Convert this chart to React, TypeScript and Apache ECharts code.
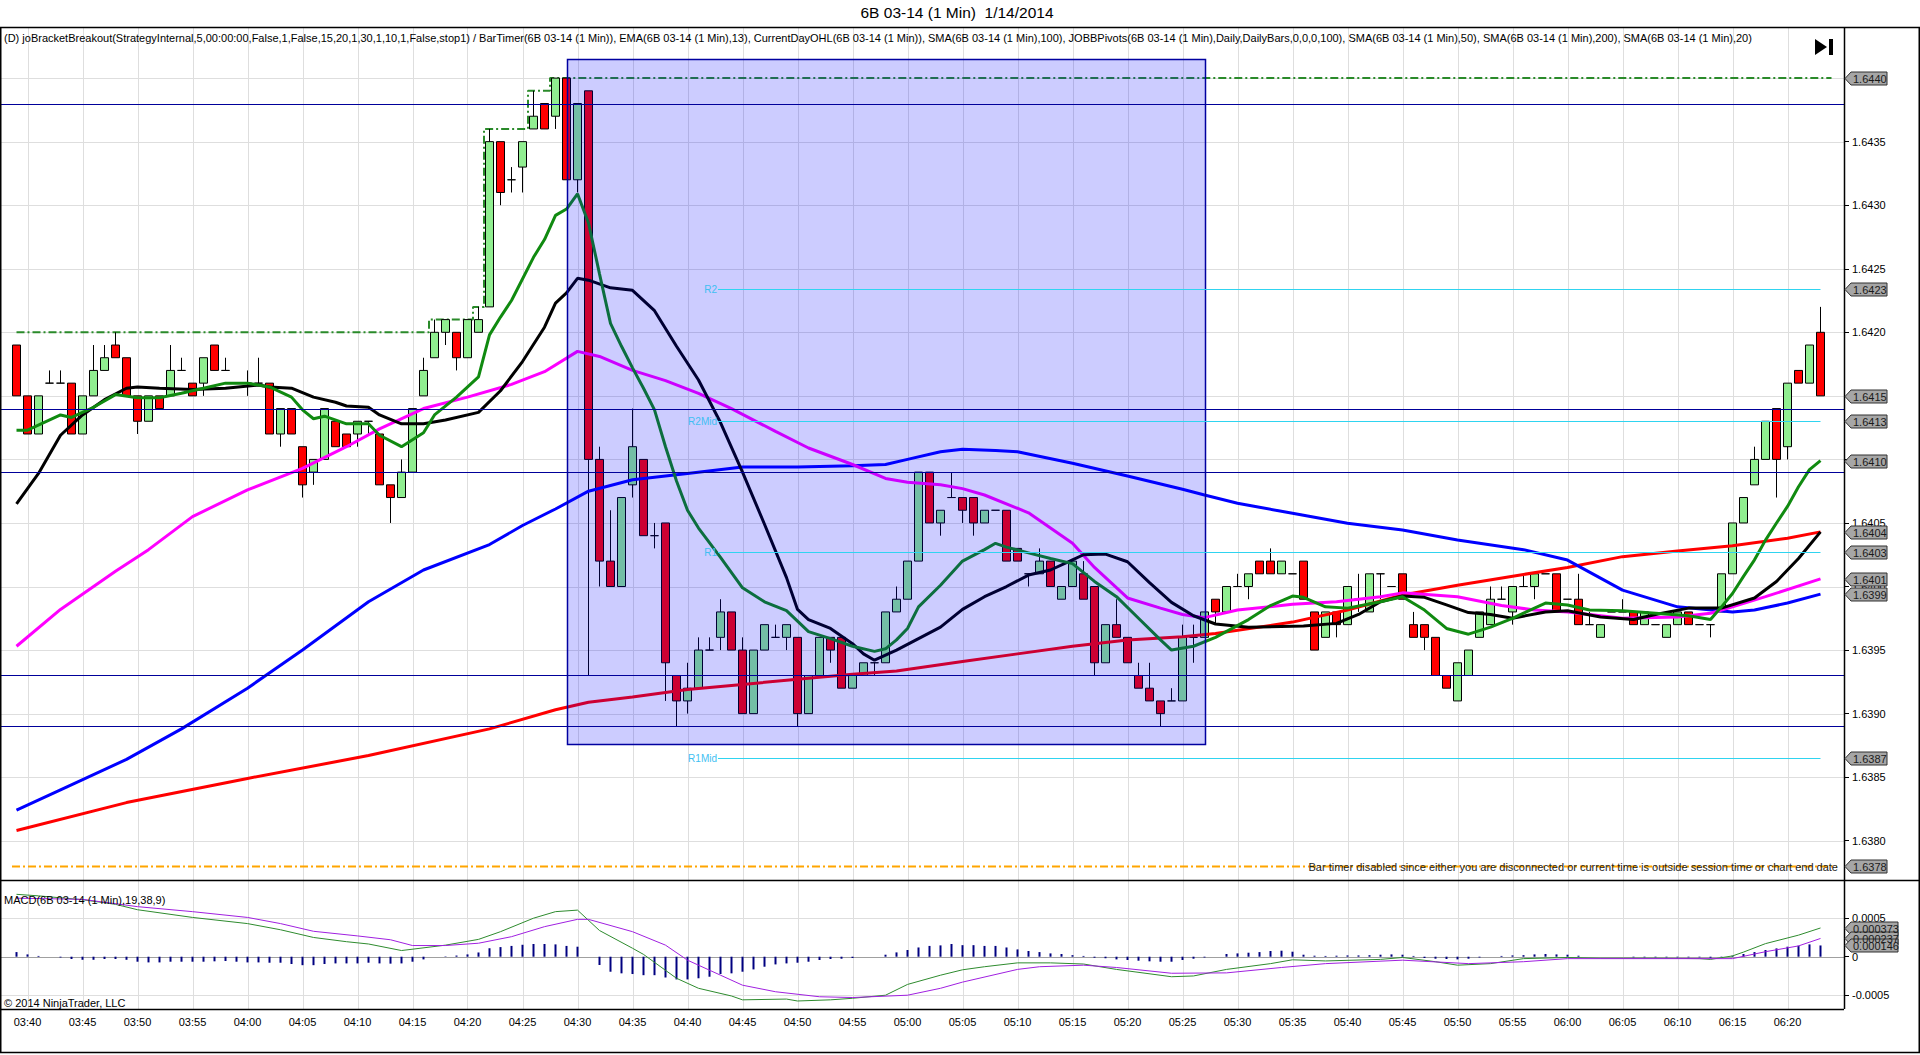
import React, { useEffect, useRef } from 'react';
import * as echarts from 'echarts';

// ---------- axis / categories ----------
const AXIS_START_MIN = 3 * 60 + 38; // 03:38
const AXIS_END_MIN = 6 * 60 + 25; // 06:25
const pad = (n: number) => String(n).padStart(2, '0');
const categories: string[] = [];
for (let t = AXIS_START_MIN; t <= AXIS_END_MIN; t++) categories.push(`${pad(Math.floor(t / 60))}:${pad(t % 60)}`);

const timeLabels = ['03:40', '03:45', '03:50', '03:55', '04:00', '04:05', '04:10', '04:15', '04:20', '04:25', '04:30', '04:35', '04:40', '04:45', '04:50', '04:55', '05:00', '05:05', '05:10', '05:15', '05:20', '05:25', '05:30', '05:35', '05:40', '05:45', '05:50', '05:55', '06:00', '06:05', '06:10', '06:15', '06:20'];
const priceTicks = [1.638, 1.6385, 1.639, 1.6395, 1.64, 1.6405, 1.641, 1.6415, 1.642, 1.6425, 1.643, 1.6435, 1.644];
const macdTicks = [-0.0005, 0, 0.0005];

const PRICE_MIN = 1.637691;
const PRICE_MAX = 1.644402;
const MACD_MIN = -0.000679;
const MACD_MAX = 0.000996;

// ---------- candles: first candle 03:39, values in pips above 1.6400 ----------
const BASE = 1.64;
const PIP = 0.0001;
const FIRST_CANDLE = '03:39';
const openPips = [
  19, 15, 12, 16, 16, 16, 12, 15, 17, 19, 18,
  15, 13, 15, 15, 17, 16, 16, 19, 17, 16,
  16, 16, 16, 12, 14, 11, 9, 10, 13, 12,
  12, 13, 12, 8, 7, 9, 15, 18, 20, 20,
  18, 20, 22, 35, 32, 33, 36, 38, 37, 40,
  32, 39, 10, 2, 0, 8, 10, 4, 5, -7,
  -9, -8, -5, -4, -2, -5, -10, -5, -4, -4,
  -4, -10, -7, -4, -4, -8, -7, -6, -6, -2,
  -1, 2, 9, 5, 7, 7, 7, 5, 6, 6,
  3, 1, 1, 2, -1, 0, 1, 0, -6, -3,
  -4, -7, -8, -9, -9, -9, -4, -4, -1, -2,
  0, 0, 2, 2, 1, 1, 2, -2, -4, -2,
  -3, -1, -2, 1, 0, 1, -3, -3, -4, -7,
  -9, -7, -4, -3, -1, -2, 0, 0, 1, 1,
  -1, -1, -3, -4, -2, -2, -2, -3, -3, -4,
  -3, -2, -3, -3, -2, 1, 5, 8, 10, 14,
  11, 17, 16, 20,
];
const highPips = [
  19, 15, 15, 17, 17, 16, 15, 19, 19, 20, 18,
  15, 15, 15, 19, 18, 16, 18, 19, 18, 16,
  17, 18, 16, 14, 14, 11, 10, 14, 13, 12,
  13, 13, 12, 8, 10, 14, 18, 21, 21, 20,
  21, 22, 36, 35, 33, 35, 39, 38, 40, 40,
  38, 39, 11, 6, 7, 14, 10, 5, 5, -7,
  -6, -4, -4, -1, -2, -4, -5, -3, -3, -3,
  -4, -7, -4, -4, -4, -7, -6, -6, -2, 0,
  2, 9, 9, 6, 9, 7, 7, 6, 6, 6,
  3, 1, 3, 2, 0, 2, 2, 0, -3, -1,
  -4, -6, -6, -9, -8, -3, -3, -2, -1, 0,
  1, 1, 2, 3, 2, 1, 2, -2, -2, -2,
  0, 1, 1, 1, 0, 1, -2, -3, -4, -7,
  -6, -5, -2, 0, 0, 0, 1, 1, 1, 1,
  -1, 1, -2, -3, -2, -1, -2, -2, -3, -3,
  -2, -2, -3, -3, 1, 5, 7, 11, 13, 14,
  16, 17, 19, 22,
];
const lowPips = [
  15, 12, 12, 16, 16, 12, 12, 15, 17, 18, 15,
  12, 13, 14, 15, 17, 15, 15, 17, 17, 16,
  15, 16, 12, 11, 12, 7, 8, 10, 11, 11,
  11, 12, 8, 5, 7, 9, 15, 18, 19, 17,
  18, 20, 22, 30, 31, 31, 36, 36, 36, 32,
  31, -7, 0, 0, 0, 7, 4, 3, -9, -11,
  -10, -8, -5, -5, -5, -10, -10, -5, -4, -5,
  -11, -10, -7, -6, -8, -8, -7, -7, -6, -2,
  -1, 2, 5, 4, 7, 5, 4, 5, 6, 2,
  2, 0, 1, 0, -1, 0, -1, -7, -6, -4,
  -6, -8, -9, -11, -9, -9, -6, -4, -3, -2,
  0, -1, 1, 1, 1, 1, -1, -5, -4, -4,
  -3, -2, -2, -1, 0, -1, -4, -5, -7, -8,
  -9, -7, -4, -3, -1, -3, 0, -1, 1, -2,
  -1, -3, -3, -4, -2, -2, -3, -3, -3, -4,
  -3, -3, -3, -4, -2, 1, 5, 8, 10, 7,
  10, 16, 16, 15,
];
const closePips = [
  15, 12, 15, 16, 16, 12, 15, 17, 18, 18, 15,
  13, 15, 14, 17, 17, 15, 18, 17, 17, 16,
  16, 16, 12, 14, 12, 8, 10, 14, 11, 11,
  13, 13, 8, 7, 9, 14, 17, 20, 21, 18,
  21, 21, 35, 31, 32, 35, 37, 36, 40, 32,
  38, 10, 2, 0, 7, 11, 4, 4, -6, -9,
  -8, -5, -5, -2, -5, -10, -5, -3, -4, -3,
  -10, -7, -4, -5, -8, -7, -6, -6, -2, -1,
  2, 9, 5, 6, 7, 6, 5, 6, 6, 2,
  2, 1, 2, 0, 0, 2, -1, -6, -3, -4,
  -6, -8, -9, -10, -9, -4, -4, -2, -2, 0,
  0, 1, 1, 1, 2, 1, -1, -5, -2, -3,
  0, -1, 1, 1, 0, -1, -4, -4, -7, -8,
  -6, -5, -2, -1, -1, 0, 0, 1, 1, -2,
  -1, -3, -3, -3, -2, -2, -3, -2, -3, -3,
  -2, -3, -3, -3, 1, 5, 7, 10, 13, 10,
  16, 16, 19, 15,
];

// ---------- indicator lines: [minutes after 03:40, pips above 1.6400] ----------
const ema13 = [[-1, 12.3], [0, 12.3], [3, 13.5], [4, 13.3], [6, 14.1], [8, 15.1], [10, 14.85], [12, 14.85], [14, 15.2], [16, 15.6], [18, 16.0], [20, 16.0], [22, 15.7], [24, 14.9], [25, 13.9], [26, 13.2], [27, 13.4], [29, 12.8], [31, 12.8], [32, 11.9], [34, 11.0], [36, 12.1], [37, 13.5], [39, 14.9], [41, 16.5], [42, 19.8], [43, 21.2], [44, 22.5], [46, 25.9], [47, 27.3], [48, 29.2], [49, 29.7], [50, 30.9], [51, 28.6], [52, 24.6], [53, 20.7], [54, 18.9], [55, 17.2], [56, 15.6], [57, 13.9], [58, 11.0], [59, 8.3], [60, 6.0], [61, 4.6], [63, 2.3], [65, -0.1], [67, -1.2], [69, -1.9], [71, -3.55], [73, -4.1], [75, -4.7], [77, -5.1], [78, -4.9], [79, -4.2], [80, -3.3], [81, -1.6], [83, 0.1], [85, 2.0], [87, 2.9], [88, 3.4], [89, 3.1], [91, 2.65], [93, 2.2], [95, 1.8], [97, 0.4], [99, -0.8], [101, -2.5], [103, -4.2], [104, -5.0], [106, -4.7], [108, -4.0], [111, -2.6], [113, -1.5], [115, -0.75], [116, -0.85], [118, -1.6], [120, -1.7], [123, -1.2], [125, -0.8], [127, -1.85], [129, -3.3], [131, -3.75], [133, -3.2], [135, -2.5], [136, -2.1], [138, -1.3], [140, -1.45], [142, -1.85], [145, -1.9], [148, -2.1], [151, -2.3], [153, -2.6], [154, -1.6], [155, -0.55], [156, 0.8], [157, 2.1], [158, 3.65], [159, 5.0], [160, 6.3], [161, 7.85], [162, 9.2], [163, 9.9]];
const sma20 = [[-1, 6.5], [1, 8.9], [3, 11.9], [5, 13.5], [7, 14.7], [9, 15.6], [10, 15.7], [12, 15.6], [15, 15.5], [18, 15.6], [21, 15.85], [22, 15.7], [24, 15.6], [26, 14.9], [28, 14.5], [29, 14.2], [31, 14.1], [32, 13.5], [34, 12.8], [36, 12.8], [38, 13.1], [41, 13.7], [43, 15.4], [45, 17.7], [47, 20.4], [48, 22.3], [49, 23.1], [50, 24.25], [51, 24.1], [53, 23.5], [55, 23.3], [57, 21.7], [59, 18.9], [61, 16.25], [63, 12.9], [65, 9.0], [67, 4.9], [69, 0.7], [70, -1.8], [71, -2.6], [73, -3.3], [75, -4.5], [76, -5.3], [77, -5.8], [79, -5.0], [81, -4.1], [83, -3.2], [85, -1.8], [87, -0.8], [89, 0.0], [91, 0.9], [93, 1.3], [95, 2.1], [96, 2.5], [98, 2.55], [100, 1.95], [102, 0.3], [104, -1.25], [106, -2.3], [108, -2.95], [111, -3.2], [116, -3.1], [119, -2.9], [121, -2.2], [123, -1.2], [125, -0.75], [127, -0.85], [129, -1.45], [131, -2.05], [133, -2.2], [135, -2.5], [138, -2.0], [140, -1.9], [143, -2.4], [146, -2.6], [148, -2.2], [151, -1.7], [154, -1.7], [157, -0.9], [159, 0.4], [161, 2.2], [163, 4.3]];
const sma50 = [[-1, -4.7], [3, -1.8], [8, 1.2], [11, 2.9], [15, 5.5], [20, 7.6], [25, 9.3], [29, 11.0], [32, 12.4], [36, 14.0], [40, 14.9], [44, 15.9], [47, 16.9], [50, 18.5], [52, 18.1], [55, 17.0], [58, 16.2], [61, 15.2], [64, 14.0], [68, 12.2], [71, 10.9], [75, 9.6], [78, 8.5], [80, 8.2], [83, 8.0], [85, 7.7], [87, 7.2], [91, 5.8], [95, 3.4], [97, 1.5], [100, -0.9], [103, -1.7], [105, -2.2], [107, -2.45], [110, -1.85], [115, -1.4], [119, -1.2], [123, -0.8], [125, -0.5], [130, -0.8], [134, -1.5], [137, -1.85], [140, -2.0], [145, -2.5], [150, -2.4], [153, -2.1], [155, -1.6], [158, -0.8], [163, 0.6]];
const sma100 = [[-1, -17.6], [3, -16.0], [9, -13.6], [14, -11.2], [20, -8.0], [25, -5.0], [31, -1.2], [36, 1.3], [42, 3.3], [45, 4.8], [48, 6.1], [51, 7.5], [55, 8.4], [60, 8.9], [65, 9.4], [70, 9.4], [75, 9.5], [78, 9.6], [80, 10.0], [83, 10.6], [85, 10.8], [88, 10.7], [90, 10.6], [95, 9.7], [100, 8.7], [105, 7.65], [107, 7.2], [110, 6.55], [115, 5.76], [120, 4.97], [125, 4.45], [130, 3.66], [136, 2.9], [140, 2.08], [145, -0.28], [150, -1.6], [155, -2.0], [157, -1.85], [160, -1.3], [163, -0.6]];
const sma200 = [[-1, -19.2], [9, -17.0], [20, -15.1], [31, -13.3], [42, -11.2], [48, -9.7], [51, -9.1], [55, -8.7], [60, -8.1], [65, -7.7], [70, -7.3], [75, -6.9], [79, -6.65], [85, -5.9], [90, -5.3], [95, -4.7], [100, -4.2], [105, -3.95], [108, -3.7], [115, -2.8], [120, -1.85], [125, -0.67], [130, 0.1], [136, 0.95], [140, 1.5], [145, 2.35], [150, 2.8], [155, 3.2], [160, 3.8], [163, 4.3]];
// CurrentDayOHL running high (step line)
const dayHigh = [[-1, 20], [36, 20], [37, 21], [40, 21], [41, 22], [42, 36], [45, 36], [46, 39], [47, 39], [48, 40], [164, 40]];

// ---------- MACD (units of 0.0001) ----------
const macdLine = [[-1, 8.1], [1, 7.9], [5, 7.4], [8, 6.8], [10, 6.1], [15, 5.1], [20, 4.3], [23, 3.5], [26, 2.5], [29, 1.95], [31, 1.65], [34, 0.8], [38, 1.5], [41, 2.25], [43, 3.25], [46, 5.0], [48, 5.85], [50, 6.05], [52, 3.4], [55, 1.1], [56, 0.3], [59, -2.8], [61, -4.1], [64, -5.1], [65, -5.6], [69, -5.5], [70, -5.75], [73, -5.6], [75, -5.4], [78, -5.0], [80, -3.6], [83, -2.4], [85, -1.7], [87, -1.3], [90, -0.8], [93, -0.8], [96, -0.95], [99, -1.65], [104, -2.6], [106, -2.5], [109, -1.65], [113, -0.9], [115, -0.4], [118, -0.55], [123, -0.35], [125, -0.1], [128, -0.65], [130, -1.1], [133, -0.9], [136, -0.25], [140, -0.1], [143, -0.2], [148, -0.2], [152, -0.25], [153, -0.35], [155, 0.1], [156, 0.6], [158, 1.7], [161, 2.8], [163, 3.73]];
const signalLine = [[-1, 7.6], [5, 7.45], [10, 6.5], [15, 5.85], [20, 5.1], [23, 4.3], [26, 3.3], [30, 2.7], [33, 2.2], [35, 1.45], [38, 1.45], [41, 1.75], [44, 2.6], [47, 3.9], [50, 4.85], [51, 4.85], [55, 3.25], [58, 1.5], [60, -0.45], [63, -2.4], [65, -3.7], [68, -4.55], [72, -5.2], [75, -5.3], [80, -5.0], [83, -4.1], [85, -3.3], [90, -1.65], [92, -1.3], [96, -1.1], [99, -1.4], [104, -2.15], [109, -2.1], [114, -1.4], [118, -0.9], [125, -0.45], [131, -0.9], [136, -0.65], [140, -0.25], [155, -0.25], [158, 0.65], [161, 1.4], [163, 2.37]];
const histValues = [
  0.6, 0.3, 0.1, 0, -0.1, -0.3, -0.4, -0.4, -0.3, -0.3, -0.4,
  -0.65, -0.74, -0.74, -0.65, -0.65, -0.65, -0.65, -0.6, -0.56, -0.65,
  -0.74, -0.74, -0.78, -0.78, -0.95, -1.1, -1.1, -0.95, -0.87, -0.87,
  -0.87, -0.78, -0.87, -0.9, -0.87, -0.65, -0.35, 0, 0.05, 0.15,
  0.3, 0.55, 1.1, 1.25, 1.4, 1.55, 1.65, 1.65, 1.6, 1.4,
  1.3, 0, -1.08, -1.95, -2.16, -2.25, -2.4, -2.4, -2.7, -2.95,
  -2.95, -2.8, -2.6, -2.25, -2.16, -1.95, -1.65, -1.3, -1.0, -0.87,
  -0.78, -0.65, -0.43, -0.3, -0.26, -0.17, 0, 0, 0.26, 0.56,
  0.87, 1.2, 1.4, 1.47, 1.65, 1.5, 1.5, 1.4, 1.4, 1.2,
  0.95, 0.74, 0.6, 0.43, 0.35, 0.2, 0.1, -0.13, -0.2, -0.35,
  -0.43, -0.52, -0.6, -0.65, -0.65, -0.43, -0.26, -0.1, 0, 0.35,
  0.43, 0.52, 0.6, 0.74, 0.78, 0.65, 0.26, 0.13, 0.1, 0.13,
  0.17, 0.17, 0.2, 0.26, 0.3, 0.26, 0.1, -0.17, -0.26, -0.3,
  -0.35, -0.26, -0.1, 0, 0.1, 0.17, 0.2, 0.3, 0.35, 0.3,
  0.26, 0.13, 0, 0, 0, 0, -0.08, -0.08, -0.08, -0.08,
  -0.08, -0.08, -0.08, -0.13, -0.05, 0.13, 0.35, 0.6, 0.87, 1.08,
  1.3, 1.43, 1.6, 1.46,
];

// ---------- drawing objects ----------
const bracketLines = [1.6438, 1.6414, 1.6409, 1.6393, 1.6389];
const pivotNames = ['R2', 'R2Mid', 'R1', 'R1Mid'];
const pivotValues = [1.64234, 1.6413, 1.64027, 1.63865];
const pivotStart = '04:43';
const pivotEnd = '06:23';
const boxStart = '04:29';
const boxEnd = '05:27';
const boxHigh = 1.64415;
const boxLow = 1.63876;
const barTimerLevel = 1.6378;
const priceMarkerValues = [1.644, 1.64234, 1.6415, 1.6413, 1.64099, 1.64043, 1.64027, 1.64006, 1.63994, 1.63865, 1.6378];
const priceMarkerTexts = ['1.6440', '1.6423', '1.6415', '1.6413', '1.6410', '1.6404', '1.6403', '1.6401', '1.6399', '1.6387', '1.6378'];
const macdMarkerValues = [0.000373, 0.000237, 0.000146];
const macdMarkerTexts = ['0.000373', '0.000237', '0.000146'];

const TITLE = '6B 03-14 (1 Min)  1/14/2014';
const LEGEND = '(D) joBracketBreakout(StrategyInternal,5,00:00:00,False,1,False,15,20,1,30,1,10,1,False,stop1) / BarTimer(6B 03-14 (1 Min)), EMA(6B 03-14 (1 Min),13), CurrentDayOHL(6B 03-14 (1 Min)), SMA(6B 03-14 (1 Min),100), JOBBPivots(6B 03-14 (1 Min),Daily,DailyBars,0,0,0,100), SMA(6B 03-14 (1 Min),50), SMA(6B 03-14 (1 Min),200), SMA(6B 03-14 (1 Min),20)';
const MACD_LEGEND = 'MACD(6B 03-14 (1 Min),19,38,9)';
const COPYRIGHT = '\u00a9 2014 NinjaTrader, LLC';
const BAR_TIMER_TEXT = 'Bar timer disabled since either you are disconnected or current time is outside session time or chart end date';

const FONT = '"Liberation Sans", Arial, sans-serif';

export default function App() {
  const ref = useRef<HTMLDivElement>(null);
  useEffect(() => {
    const chart = echarts.init(ref.current!, null, { renderer: 'svg' });
    const firstIdx = categories.indexOf(FIRST_CANDLE);
    const price = (p: number) => +(BASE + p * PIP).toFixed(6);
    const candleData = categories.map((_, i) => {
      const k = i - firstIdx;
      if (k < 0 || k >= openPips.length) return '-';
      return [price(openPips[k]), price(closePips[k]), price(lowPips[k]), price(highPips[k])];
    });
    const idx0 = categories.indexOf('03:40');
    const toLine = (arr: number[][]) => arr.map(([m, p]) => [m + idx0, price(p)]);
    const toMacd = (arr: number[][]) => arr.map(([m, v]) => [m + idx0, +(v * 0.0001).toFixed(8)]);
    const histData = categories.map((_, i) => {
      const k = i - firstIdx;
      if (k < 0 || k >= histValues.length) return '-';
      return +(histValues[k] * 0.0001).toFixed(8);
    });

    const maLine = (name: string, data: number[][], color: string, z: number) => ({
      type: 'line', name, xAxisIndex: 0, yAxisIndex: 0, data: toLine(data), showSymbol: false, symbol: 'none',
      lineStyle: { color, width: 3 }, z, silent: true,
    });

    chart.setOption({
      animation: false,
      backgroundColor: '#ffffff',
      textStyle: { fontFamily: FONT },
      grid: [
        { left: 0, top: 27, width: 1848, height: 853 },
        { left: 0, top: 880, width: 1848, height: 129 },
      ],
      xAxis: [
        { type: 'category', gridIndex: 0, data: categories, boundaryGap: true, axisLine: { show: false }, axisTick: { show: false }, axisLabel: { show: false }, splitLine: { show: false } },
        {
          type: 'category', gridIndex: 1, data: categories, boundaryGap: true, axisLine: { show: false }, axisTick: { show: false },
          axisLabel: { show: true, interval: (_i: number, v: string) => timeLabels.indexOf(v) >= 0, fontSize: 11, color: '#000', margin: 7, fontFamily: FONT },
          splitLine: { show: false },
        },
      ],
      yAxis: [
        {
          type: 'value', gridIndex: 0, position: 'right', offset: -4, min: PRICE_MIN, max: PRICE_MAX, scale: true,
          splitLine: { show: false }, axisLine: { show: false },
          axisTick: { show: true, customValues: priceTicks, length: 5, lineStyle: { color: '#000' } },
          axisLabel: { customValues: priceTicks, formatter: (v: number) => v.toFixed(4), fontSize: 11, color: '#000', margin: 8, fontFamily: FONT, showMinLabel: true, showMaxLabel: true },
        },
        {
          type: 'value', gridIndex: 1, position: 'right', offset: -4, min: MACD_MIN, max: MACD_MAX, scale: true,
          splitLine: { show: false }, axisLine: { show: false },
          axisTick: { show: true, customValues: macdTicks, length: 5, lineStyle: { color: '#000' } },
          axisLabel: { customValues: macdTicks, formatter: (v: number) => (Math.abs(v) < 1e-9 ? '0' : v.toFixed(4)), fontSize: 11, color: '#000', margin: 8, fontFamily: FONT },
        },
      ],
      series: [
        {
          type: 'line', name: 'CurrentDayHigh', xAxisIndex: 0, yAxisIndex: 0, data: toLine(dayHigh), step: 'middle', showSymbol: false, symbol: 'none',
          lineStyle: { color: '#2a8a2a', width: 2, type: [8, 3, 2, 3] }, z: 3, silent: true,
        },
        {
          type: 'candlestick', name: '6B', xAxisIndex: 0, yAxisIndex: 0, data: candleData, barWidth: 8,
          itemStyle: { color: '#90ee90', color0: '#ff0000', borderColor: '#000', borderColor0: '#000', borderWidth: 1 },
          z: 3, silent: true,
        },
        maLine('SMA200', sma200, '#ff0000', 4),
        maLine('SMA100', sma100, '#0000ff', 4),
        maLine('SMA50', sma50, '#ff00ff', 4),
        maLine('SMA20', sma20, '#000000', 5),
        maLine('EMA13', ema13, '#108a10', 5),
        {
          type: 'bar', name: 'Diff', xAxisIndex: 1, yAxisIndex: 1, data: histData, barWidth: 2,
          itemStyle: { color: '#000080' }, z: 3, silent: true,
        },
        {
          type: 'line', name: 'MACD', xAxisIndex: 1, yAxisIndex: 1, data: toMacd(macdLine), showSymbol: false, symbol: 'none',
          lineStyle: { color: '#2e8b2e', width: 1 }, z: 4, silent: true,
        },
        {
          type: 'line', name: 'Avg', xAxisIndex: 1, yAxisIndex: 1, data: toMacd(signalLine), showSymbol: false, symbol: 'none',
          lineStyle: { color: '#a020e0', width: 1 }, z: 4, silent: true,
        },
      ],
    });

    const yP = (v: number) => chart.convertToPixel({ yAxisIndex: 0 } as any, v) as unknown as number;
    const yM = (v: number) => chart.convertToPixel({ yAxisIndex: 1 } as any, v) as unknown as number;
    const xC = (t: string) => chart.convertToPixel({ xAxisIndex: 0 } as any, t) as unknown as number;
    const crisp = (v: number) => Math.round(v) + 0.5;

    const AXIS_X = 1844;
    const TOP = 27;
    const SEP = 880;
    const MACD_BOTTOM = 1009;
    const g: any[] = [];
    const line = (x1: number, y1: number, x2: number, y2: number, stroke: string, lineWidth: number, z: number, lineDash?: number[]) =>
      g.push({ type: 'line', silent: true, z, shape: { x1, y1, x2, y2 }, style: { stroke, lineWidth, lineDash } });
    const text = (x: number, y: number, t: string, opts: any, z: number) =>
      g.push({ type: 'text', silent: true, z, x, y, style: { text: t, fontFamily: FONT, fontSize: 11, fill: '#000', align: 'left', verticalAlign: 'middle', ...opts } });

    // grid lines
    priceTicks.forEach((v) => line(0, crisp(yP(v)), AXIS_X, crisp(yP(v)), '#dedede', 1, 0));
    [-0.0005, 0.0005].forEach((v) => line(0, crisp(yM(v)), AXIS_X, crisp(yM(v)), '#dedede', 1, 0));
    timeLabels.forEach((t) => {
      const x = crisp(xC(t));
      line(x, TOP, x, MACD_BOTTOM, '#dedede', 1, 0);
    });
    line(0, crisp(yM(0)), AXIS_X, crisp(yM(0)), '#a0a0a0', 1, 1);

    // box
    const bx1 = xC(boxStart), bx2 = xC(boxEnd), by1 = yP(boxHigh), by2 = yP(boxLow);
    g.push({ type: 'rect', silent: true, z: 10, shape: { x: Math.round(bx1) + 0.5, y: Math.round(by1) + 0.5, width: Math.round(bx2 - bx1), height: Math.round(by2 - by1) }, style: { fill: 'rgba(0,0,255,0.2)', stroke: '#0000a0', lineWidth: 1.5 } });

    // bracket lines
    bracketLines.forEach((v) => line(0, crisp(yP(v)), AXIS_X, crisp(yP(v)), '#00009a', 1, 11));

    // pivots
    const px1 = xC(pivotStart) - 2.5, px2 = xC(pivotEnd);
    pivotValues.forEach((v, i) => {
      const y = crisp(yP(v));
      line(px1, y, px2, y, '#2fd4f0', 1, 11);
      text(px1 - 1, y, pivotNames[i], { fill: '#3fbff2', fontSize: 10, align: 'right' }, 11);
    });

    // bar timer line + text
    const by = crisp(yP(barTimerLevel));
    line(12, by, 1837, by, '#ffa500', 2, 11, [8, 3, 2, 3]);
    text(1838, by, BAR_TIMER_TEXT, { fill: '#222', fontSize: 11, align: 'right' }, 12);

    // borders / frames
    line(0, TOP + 0.5, 1920, TOP + 0.5, '#000', 1.5, 30);
    line(0, SEP + 0.5, 1920, SEP + 0.5, '#000', 1.5, 30);
    line(0, MACD_BOTTOM + 0.5, AXIS_X, MACD_BOTTOM + 0.5, '#000', 1.5, 30);
    line(AXIS_X + 0.5, TOP, AXIS_X + 0.5, MACD_BOTTOM, '#000', 1.5, 30);
    line(0.75, TOP, 0.75, 1053, '#000', 1.5, 30);
    line(1919.25, TOP, 1919.25, 1053, '#000', 1.5, 30);
    line(0, 1052.5, 1920, 1052.5, '#000', 1.5, 30);

    // texts
    text(957, 12, TITLE, { fontSize: 15.5, align: 'center', fill: '#000' }, 30);
    text(4, 38, LEGEND, { fontSize: 11, fill: '#000' }, 30);
    text(4, 900, MACD_LEGEND, { fontSize: 11, fill: '#000' }, 30);
    text(4, 1003, COPYRIGHT, { fontSize: 11, fill: '#000' }, 30);

    // play icon
    g.push({ type: 'polygon', silent: true, z: 30, shape: { points: [[1815, 39], [1815, 55], [1827, 47]] }, style: { fill: '#000' } });
    g.push({ type: 'rect', silent: true, z: 30, shape: { x: 1829, y: 39, width: 4, height: 16 }, style: { fill: '#000' } });

    // markers
    const marker = (y: number, t: string, w: number) => {
      const yy = Math.round(y) + 0.5;
      g.push({ type: 'polygon', silent: true, z: 40, shape: { points: [[1845, yy], [1851, yy - 6.5], [1851 + w, yy - 6.5], [1851 + w, yy + 6.5], [1851, yy + 6.5]] }, style: { fill: '#a6a6a6', stroke: '#303030', lineWidth: 1 } });
      text(1853, yy + 0.5, t, { fontSize: 11, fill: '#1a1a1a' }, 41);
    };
    priceMarkerValues.forEach((v, i) => marker(yP(v), priceMarkerTexts[i], 36));
    macdMarkerValues.forEach((v, i) => marker(yM(v), macdMarkerTexts[i], 47));

    chart.setOption({ graphic: g });
    return () => chart.dispose();
  }, []);
  return <div ref={ref} style={{ position: 'fixed', left: 0, top: 0, width: 1920, height: 1055, background: '#fff' }} />;
}
